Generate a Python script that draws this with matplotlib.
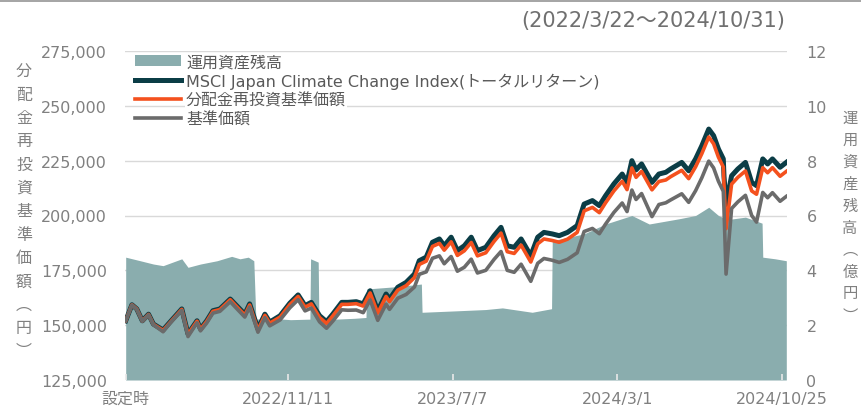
import numpy as np
import pandas as pd
import matplotlib
matplotlib.use("Agg")
import matplotlib.pyplot as plt
from matplotlib.patches import Rectangle

plt.rcParams['font.family'] = ['DejaVu Sans', 'Noto Sans CJK JP']

# index / fund lines
dates = ["2022-03-22", "2022-03-31", "2022-04-07", "2022-04-15", "2022-04-24", "2022-05-01", "2022-05-15", "2022-05-25", "2022-06-11", "2022-06-20",
         "2022-07-03", "2022-07-08", "2022-07-17", "2022-07-26", "2022-08-05", "2022-08-20", "2022-08-31", "2022-09-10", "2022-09-17", "2022-09-29",
         "2022-10-09", "2022-10-16", "2022-10-31", "2022-11-14", "2022-11-26", "2022-12-06", "2022-12-15", "2022-12-27", "2023-01-06", "2023-01-15",
         "2023-01-28", "2023-02-06", "2023-02-18", "2023-02-28", "2023-03-10", "2023-03-21", "2023-04-02", "2023-04-07", "2023-04-19", "2023-05-01",
         "2023-05-13", "2023-05-20", "2023-05-30", "2023-06-08", "2023-06-18", "2023-06-25", "2023-07-05", "2023-07-14", "2023-07-24", "2023-08-03",
         "2023-08-12", "2023-08-24", "2023-09-05", "2023-09-15", "2023-09-24", "2023-10-04", "2023-10-14", "2023-10-28", "2023-11-07", "2023-11-16",
         "2023-11-28", "2023-12-08", "2023-12-20", "2024-01-03", "2024-01-13", "2024-01-25", "2024-02-04", "2024-02-13", "2024-02-25", "2024-03-08",
         "2024-03-15", "2024-03-22", "2024-03-28", "2024-04-05", "2024-04-20", "2024-04-30", "2024-05-10", "2024-05-17", "2024-06-02", "2024-06-12",
         "2024-06-22", "2024-07-01", "2024-07-11", "2024-07-18", "2024-07-25", "2024-08-01", "2024-08-02", "2024-08-05", "2024-08-13", "2024-08-22",
         "2024-09-02", "2024-09-11", "2024-09-18", "2024-09-27", "2024-10-04", "2024-10-11", "2024-10-22", "2024-10-31"]

msci = [152000, 159300, 157400, 152000, 155000, 150500, 147800, 151400, 157400, 146000,
        152000, 148300, 152000, 156600, 157400, 161900, 158300, 155000, 159700, 148300,
        155000, 151400, 154300, 160000, 163800, 158900, 160400, 154300, 151600, 155000,
        160400, 160400, 160700, 159700, 165700, 156600, 164200, 161900, 167300, 169500,
        173300, 179400, 181000, 187800, 189300, 186200, 190100, 184000, 186200, 190100,
        184000, 185500, 190800, 194600, 186200, 185500, 189300, 181700, 190100, 192300,
        191600, 190800, 192300, 195400, 205200, 206800, 204500, 209000, 214400, 218900,
        215100, 225000, 220800, 223500, 215100, 218900, 219700, 221200, 224200, 220400,
        225800, 231800, 239400, 236400, 230300, 225800, 218000, 205000, 218100, 221200,
        224200, 215100, 213600, 225800, 223500, 225800, 222000, 224200]

reinvest = [152000, 159300, 157400, 151900, 154900, 150400, 147600, 151200, 157200, 145800,
            151800, 148100, 151700, 156300, 157100, 161600, 157900, 154600, 159200, 147800,
            154500, 150900, 153700, 159400, 163100, 158200, 159700, 153500, 150800, 154200,
            159500, 159500, 159800, 158700, 164700, 155500, 163100, 160700, 166000, 168000,
            171700, 177700, 179200, 185900, 187300, 184200, 188000, 181800, 183900, 187700,
            181600, 183000, 188200, 192000, 183500, 182700, 186500, 178800, 187100, 189300,
            188600, 187800, 189200, 192300, 202100, 203700, 201300, 205800, 211200, 215600,
            211800, 221700, 217400, 220100, 211700, 215500, 216200, 217700, 220600, 216800,
            222200, 228200, 235800, 232700, 226600, 222100, 214200, 194000, 214300, 217400,
            220300, 211200, 209700, 221800, 219500, 221800, 217900, 220100]

nav = [152000, 159200, 157200, 151800, 154700, 150200, 147000, 150900, 156700, 144800,
       151100, 147400, 151000, 155500, 156300, 160700, 157000, 153700, 158300, 146800,
       153400, 149700, 152400, 157900, 161600, 156500, 157800, 151500, 148600, 151800,
       157000, 156800, 156900, 155700, 161500, 152200, 159600, 157200, 162300, 164000,
       167400, 173200, 174300, 180500, 181600, 178000, 181300, 174600, 176400, 180100,
       173800, 175000, 180000, 183600, 175000, 174100, 177800, 170000, 178200, 180400,
       179600, 178600, 180000, 183000, 192700, 194100, 191700, 196100, 201400, 205700,
       201800, 211600, 207300, 210000, 199500, 205000, 205800, 207100, 209900, 206000,
       211300, 217200, 224800, 221700, 215600, 211000, 203000, 173300, 203200, 206200,
       209200, 200000, 197000, 210500, 208100, 210400, 206500, 208700]

# net assets (億円)
aum_dates = ["2022-03-22", "2022-04-12", "2022-05-01", "2022-05-15", "2022-06-11", "2022-06-20", "2022-07-08", "2022-08-01",
             "2022-08-22", "2022-09-03", "2022-09-15", "2022-09-23",
             "2022-09-26", "2022-10-20", "2022-11-15", "2022-12-13",
             "2022-12-14", "2022-12-25",
             "2022-12-26", "2023-01-20", "2023-02-15", "2023-03-04",
             "2023-03-05", "2023-04-15", "2023-05-23",
             "2023-05-24", "2023-07-10", "2023-08-24", "2023-09-17", "2023-10-30", "2023-11-27",
             "2023-11-28", "2023-12-20", "2024-01-13", "2024-02-13", "2024-03-22", "2024-04-16", "2024-05-29", "2024-06-22",
             "2024-07-11", "2024-07-25", "2024-08-07", "2024-09-02", "2024-09-26",
             "2024-09-27", "2024-10-15", "2024-10-31"]
aum = [4.48, 4.35, 4.23, 4.17, 4.42, 4.11, 4.23, 4.35,
       4.51, 4.42, 4.48, 4.35,
       2.22, 2.25, 2.20, 2.22,
       4.42, 4.30,
       2.20, 2.22, 2.25, 2.28,
       3.32, 3.40, 3.50,
       2.47, 2.52, 2.57, 2.63, 2.47, 2.60,
       5.08, 5.20, 5.33, 5.69, 6.00, 5.69, 5.88, 6.00,
       6.30, 6.00, 5.85, 5.94, 5.72,
       4.48, 4.42, 4.35]

tick_dates = ["2022-03-22", "2022-11-11", "2023-07-07", "2024-03-01", "2024-10-25"]
tick_labels = ["設定時", "2022/11/11", "2023/7/7", "2024/3/1", "2024/10/25"]

x = pd.to_datetime(dates)
xa = pd.to_datetime(aum_dates)

W, H = 861, 410
fig = plt.figure(figsize=(W / 100, H / 100), dpi=100)
ax = fig.add_axes([125 / W, (H - 381) / H, 662 / W, 329 / H])
ax2 = ax.twinx()
ax.set_zorder(2)
ax.patch.set_visible(False)
ax2.set_zorder(1)

grey_txt = '#808080'

# area on the right axis, grid under it
ax2.set_axisbelow(True)
ax2.grid(axis='y', color='#d9d9d9', lw=1)
area = ax2.fill_between(xa, aum, 0, color='#8aadae', lw=0, label='運用資産残高')
ax2.set_ylim(0, 12)
ax2.set_yticks(np.arange(0, 13, 2))

l1, = ax.plot(x, msci, color='#0b3d46', lw=3.6, solid_joinstyle='round',
              label='MSCI Japan Climate Change Index(トータルリターン)')
l2, = ax.plot(x, reinvest, color='#f4511e', lw=2.6, solid_joinstyle='round', label='分配金再投資基準価額')
l3, = ax.plot(x, nav, color='#6b6b6b', lw=2.6, solid_joinstyle='round', label='基準価額')

ax.set_ylim(125000, 275000)
ax.set_yticks(np.arange(125000, 275001, 25000))
ax.set_yticklabels([f'{v:,}' for v in range(125000, 275001, 25000)])
ax.set_xlim(pd.Timestamp("2022-03-21"), pd.Timestamp("2024-11-01"))
ax.set_xticks(pd.to_datetime(tick_dates))
ax.set_xticklabels(tick_labels)

for a in (ax, ax2):
    for s in a.spines.values():
        s.set_visible(False)
ax.tick_params(axis='y', length=0, pad=13, labelsize=11.5, labelcolor=grey_txt)
ax2.tick_params(axis='y', length=0, pad=14, labelsize=11.5, labelcolor=grey_txt)
ax.tick_params(axis='x', direction='in', length=4, width=1.2, color='#e8e8e8',
               pad=8, labelsize=11.5, labelcolor=grey_txt)

leg = ax.legend(handles=[area, l1, l2, l3], loc='upper left', bbox_to_anchor=(0.015, 0.99),
                frameon=False, fontsize=11.5, handlelength=2.9, handletextpad=0.3,
                labelspacing=0.22, borderpad=0, borderaxespad=0)
for t in leg.get_texts():
    t.set_color('#595959')
    t.set_bbox(dict(facecolor='white', edgecolor='none', pad=0.5))

# title and top rule
fig.text(785 / W, 1 - 21 / H, '(2022/3/22～2024/10/31)', ha='right', va='center',
         fontsize=15, color='#707070')
fig.add_artist(Rectangle((0, 1 - 3 / H), 1, 3 / H, transform=fig.transFigure,
                         color='#a6a6a6', lw=0))

# vertical axis titles
left_chars = list('分配金再投資基準価額') + ['︵', '円', '︶']
for i, c in enumerate(left_chars):
    fig.text(24 / W, 1 - (72 + i * 23.3) / H, c, ha='center', va='center',
             fontsize=11.5, color=grey_txt)
right_chars = list('運用資産残高') + ['︵', '億', '円', '︶']
for i, c in enumerate(right_chars):
    fig.text(850 / W, 1 - (118 + i * 22) / H, c, ha='center', va='center',
             fontsize=11, color=grey_txt)

fig.savefig('out.png', dpi=100)
